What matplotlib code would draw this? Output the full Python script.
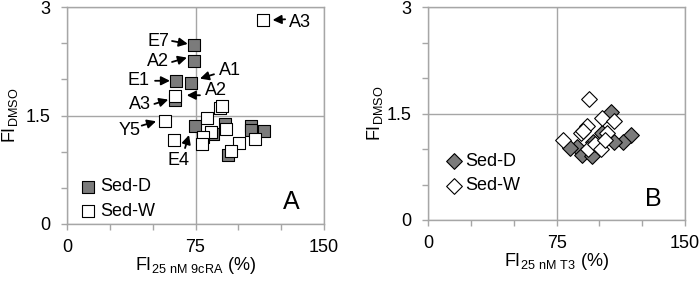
import matplotlib
matplotlib.use('Agg')
import matplotlib.pyplot as plt
from matplotlib.ticker import MultipleLocator

plt.rcParams['font.family'] = ['Liberation Sans', 'DejaVu Sans']
plt.rcParams['mathtext.fontset'] = 'custom'
plt.rcParams['mathtext.rm'] = 'Liberation Sans'
plt.rcParams['font.size'] = 13

# panel A: FI 25 nM 9cRA (%) vs FI DMSO
a_sed_d_x = [74.3, 74.3, 63.4, 72.2, 63.1, 74.7, 92.2, 85.0, 107.4, 107.4, 115.2, 94.2]
a_sed_d_y = [2.48, 2.26, 1.98, 1.95, 1.71, 1.35, 1.38, 1.25, 1.36, 1.30, 1.28, 0.95]
a_sed_w_x = [114.6, 63.1, 57.2, 62.3, 89.5, 90.5, 81.5, 92.8, 84.0, 79.6, 78.6, 109.7, 100.6, 95.5]
a_sed_w_y = [2.82, 1.77, 1.43, 1.16, 1.60, 1.63, 1.47, 1.32, 1.27, 1.20, 1.11, 1.18, 1.12, 1.01]

# panel B: FI 25 nM T3 (%) vs FI DMSO
b_sed_d_x = [106.7, 118.3, 113.6, 108.8, 101.7, 96.4, 86.7, 82.7, 89.6, 95.5]
b_sed_d_y = [1.52, 1.20, 1.10, 1.10, 1.23, 1.10, 1.03, 1.02, 0.91, 0.90]
b_sed_w_x = [94.1, 101.3, 108.5, 92.6, 89.2, 104.6, 78.5, 93.5, 97.6, 100.9, 103.3, 90.5]
b_sed_w_y = [1.71, 1.43, 1.39, 1.32, 1.22, 1.22, 1.12, 1.00, 1.07, 1.00, 1.12, 1.25]

# labels in panel A: text, text pos, arrow tail, arrow head
a_labels = ['E7', 'A2', 'E1', 'A1', 'A2', 'A3', 'Y5', 'E4', 'A3']
a_text_xy = [(53.1, 2.52), (53.1, 2.24), (42.0, 1.98), (95.4, 2.12), (87.0, 1.84),
             (42.3, 1.65), (36.8, 1.29), (65.1, 0.88), (136.0, 2.79)]
a_tail_xy = [(61.3, 2.53), (61.3, 2.24), (51.4, 1.98), (85.8, 2.07), (77.6, 1.78),
             (51.0, 1.66), (43.6, 1.36), (68.9, 1.05), (127.3, 2.83)]
a_head_xy = [(70.5, 2.49), (70.0, 2.30), (60.1, 1.98), (77.6, 2.01), (69.9, 1.78),
             (59.1, 1.72), (52.0, 1.42), (71.2, 1.23), (120.0, 2.82)]

grey = '#a6a6a6'
fill = '#7b7b7b'

fig = plt.figure(figsize=(7, 2.82), dpi=100)
axA = fig.add_axes([67/700, 58/282, 257/700, 217/282])
axB = fig.add_axes([428.3/700, 62/282, 256.7/700, 213/282])


def style(ax, xlab, ylabpad):
    ax.set_xlim(0, 150)
    ax.set_ylim(0, 3)
    ax.xaxis.set_major_locator(MultipleLocator(75))
    ax.xaxis.set_minor_locator(MultipleLocator(25))
    ax.yaxis.set_major_locator(MultipleLocator(1.5))
    ax.yaxis.set_minor_locator(MultipleLocator(0.5))
    ax.grid(True, which='major', color=grey, lw=1)
    ax.set_axisbelow(True)
    for s in ax.spines.values():
        s.set_color(grey)
        s.set_linewidth(1)
    ax.tick_params(which='both', direction='out', length=4, color=grey, width=1)
    ax.tick_params(axis='x', which='major', pad=7, labelsize=13)
    ax.tick_params(axis='y', which='major', pad=8, labelsize=13)
    ax.yaxis.set_major_formatter(plt.FuncFormatter(lambda v, p: '%g' % v))
    ax.set_xlabel(xlab, fontsize=13, labelpad=-1)
    ax.set_ylabel(r'FI$_{\mathregular{DMSO}}$', fontsize=13, labelpad=ylabpad)


style(axA, r'FI$_{\mathregular{25\ nM\ 9cRA}}$ (%)', 4)
style(axB, r'FI$_{\mathregular{25\ nM\ T3}}$ (%)', 1)

axA.scatter(a_sed_d_x, a_sed_d_y, marker='s', s=78, facecolor=fill, edgecolor='black',
            lw=0.8, zorder=3, label='Sed-D')
axA.scatter(a_sed_w_x, a_sed_w_y, marker='s', s=78, facecolor='white', edgecolor='black',
            lw=0.8, zorder=4, label='Sed-W')

for t, txy, tail, head in zip(a_labels, a_text_xy, a_tail_xy, a_head_xy):
    axA.text(txy[0], txy[1], t, ha='center', va='center', fontsize=13, zorder=5)
    axA.annotate('', xy=head, xytext=tail,
                 arrowprops=dict(arrowstyle='-|>,head_length=0.4,head_width=0.2',
                                 color='black', lw=1.3, shrinkA=0, shrinkB=0), zorder=5)

axA.legend(loc='lower left', bbox_to_anchor=(0.05, 0.02), frameon=False, fontsize=13,
           handlelength=0.9, handletextpad=0.25, labelspacing=0.4, borderpad=0,
           borderaxespad=0, scatterpoints=1)
axA.text(131, 0.31, 'A', ha='center', va='center', fontsize=18)

axB.scatter(b_sed_d_x, b_sed_d_y, marker='D', s=64, facecolor=fill, edgecolor='black',
            lw=0.8, zorder=3, label='Sed-D')
axB.scatter(b_sed_w_x, b_sed_w_y, marker='D', s=64, facecolor='white', edgecolor='black',
            lw=0.8, zorder=4, label='Sed-W')
axB.legend(loc='lower left', bbox_to_anchor=(0.07, 0.12), frameon=False, fontsize=13,
           handlelength=0.9, handletextpad=0.15, labelspacing=0.4, borderpad=0,
           borderaxespad=0, scatterpoints=1)
axB.text(131.3, 0.30, 'B', ha='center', va='center', fontsize=18)

fig.savefig('out.png', dpi=100)
